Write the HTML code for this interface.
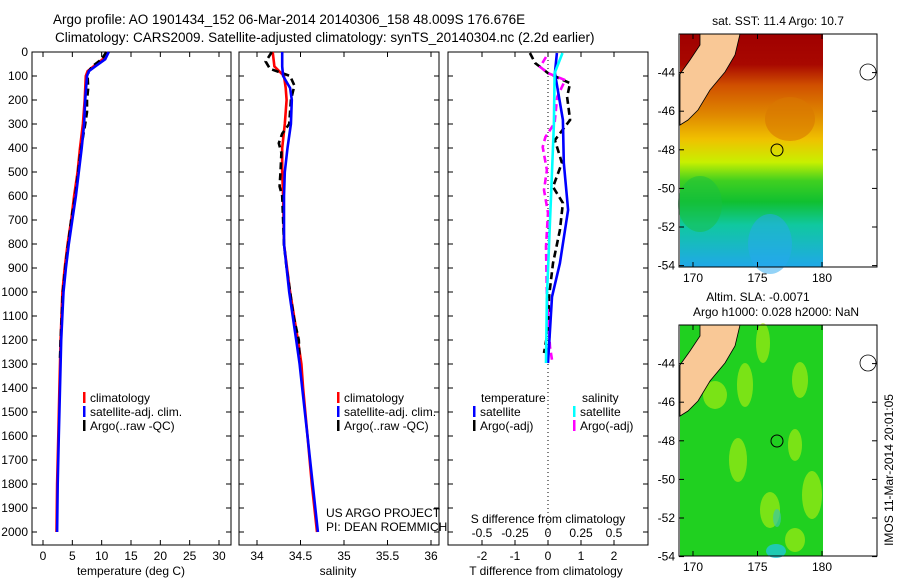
<!DOCTYPE html>
<html><head><meta charset="utf-8"><style>
body{margin:0;background:#fff}
svg{display:block;font-family:"Liberation Sans",sans-serif}
</style></head><body>
<svg id="fig" width="900" height="580" viewBox="0 0 900 580" xmlns="http://www.w3.org/2000/svg">
<rect width="900" height="580" fill="#fff"/>
<text x="53" y="24" font-size="13.5">Argo profile: AO 1901434_152 06-Mar-2014 20140306_158 48.009S 176.676E</text>
<text x="55" y="42" font-size="13.5">Climatology: CARS2009. Satellite-adjusted climatology: synTS_20140304.nc (2.2d earlier)</text>
<g id="maps"></g>
<g id="panels"></g>
</svg>
<script>
// ---- data ----
const tempDepth=[0,30,60,80,100,200,300,400,500,600,700,800,900,1000,1200,1400,1600,1800,2000];
const tempClim=[10.9,10.2,8.6,7.6,7.3,7.1,6.8,6.3,5.9,5.3,4.8,4.2,3.7,3.3,3.0,2.8,2.6,2.4,2.3];
const tempSat=[11.2,10.6,8.9,7.8,7.5,7.2,7.0,6.6,6.1,5.6,5.0,4.4,3.9,3.5,3.1,2.9,2.7,2.5,2.4];
const argoTDepth=[0,30,60,80,100,150,200,250,300,400,500,600,700,800,900,1000,1100,1200,1280];
const argoT=[10.8,10.0,8.4,7.8,7.6,7.7,7.5,7.5,7.2,6.5,6.0,5.5,4.8,4.3,3.8,3.4,3.2,3.0,2.9];
const salDepth=[0,60,100,150,200,300,400,500,600,800,1000,1200,1300,1400,1600,1800,2000];
const salClim=[34.18,34.20,34.31,34.33,34.34,34.32,34.29,34.29,34.30,34.31,34.38,34.47,34.51,34.53,34.58,34.63,34.69];
const salSat=[34.29,34.29,34.30,34.38,34.40,34.39,34.35,34.32,34.31,34.31,34.37,34.45,34.49,34.52,34.58,34.64,34.70];
const argoSDepth=[0,40,70,100,140,200,300,340,380,420,500,560,600,700,800,900,1000,1100,1200,1280];
const argoS=[34.17,34.10,34.15,34.38,34.43,34.39,34.37,34.29,34.25,34.28,34.27,34.26,34.29,34.30,34.31,34.34,34.38,34.42,34.48,34.49];
const dTDepth=[4,88,283,462,658,880,1020,1296];
const dTSat=[0.27,0.21,0.45,0.48,0.61,0.36,0.12,0.0];
const dTArgoDepth=[4,46,88,130,187,283,367,462,562,629,742,880,1020,1158,1254];
const dTArgo=[-0.55,-0.39,0.0,0.67,0.58,0.67,0.21,0.42,0.15,0.45,0.36,0.15,0.03,0.0,-0.12];
const dSDepth=[4,88,300,604,1020,1296];
const dSSat=[0.11,0.05,0.045,0.023,-0.008,-0.015];
const dSArgoDepth=[21,62,88,117,187,296,354,396,492,575,671,812,1020,1229,1283];
const dSArgo=[-0.015,-0.06,0.0,0.13,0.07,0.05,-0.02,-0.04,-0.008,-0.03,0.0,-0.015,-0.008,0.015,0.03];
const tempTicks=[0,5,10,15,20,25,30];
const salTicks=[34,34.5,35,35.5,36];
const dTTicks=[-2,-1,0,1,2];
const dSTicks=[-0.5,-0.25,0,0.25,0.5];
const depthTicks=[0,100,200,300,400,500,600,700,800,900,1000,1100,1200,1300,1400,1500,1600,1700,1800,1900,2000];
const latTicks=[-44,-46,-48,-50,-52,-54];
const lonTicks=[170,175,180];

const NS="http://www.w3.org/2000/svg";
function el(tag,attrs,parent,txt){const e=document.createElementNS(NS,tag);for(const k in attrs)e.setAttribute(k,attrs[k]);if(txt!==undefined)e.textContent=txt;parent.appendChild(e);return e;}
const P=document.getElementById('panels');
const TOP=52,BOT=545;
const yD=d=>52+d*0.24;
function xLin(v0,x0,v1,x1){return v=>x0+(v-v0)*(x1-x0)/(v1-v0);}
const xT=xLin(0,43,30,219), xS=xLin(34,257,36,431), xDT=xLin(0,548,2,614), xDS=xLin(0,548,0.5,614);

function frame(x0,x1,name){
  const r=el('rect',{x:x0,y:TOP,width:x1-x0,height:BOT-TOP,fill:'none',stroke:'#000','stroke-width':1},P);
  
  
  depthTicks.forEach(d=>{const y=yD(d);
    el('line',{x1:x0,x2:x0+5,y1:y,y2:y,stroke:'#000'},P);
    el('line',{x1:x1-5,x2:x1,y1:y,y2:y,stroke:'#000'},P);});
}
function xticks(ticks,fx,y,labels,name){
  ticks.forEach((t,i)=>{const x=fx(t);
    el('line',{x1:x,x2:x,y1:BOT,y2:BOT-5,stroke:'#000'},P);
    el('line',{x1:x,x2:x,y1:TOP,y2:TOP+5,stroke:'#000'},P);
    const tx=el('text',{x:x,y:y,'font-size':12,'text-anchor':'middle'},P,labels?labels[i]:String(t));
    
    });
}
function line(vals,depths,fx,color,dash,name,w){
  const pts=vals.map((v,i)=>fx(v).toFixed(1)+','+yD(depths[i]).toFixed(1)).join(' ');
  const a={points:pts,fill:'none',stroke:color,'stroke-width':w||2.6};
  if(dash)a['stroke-dasharray']=dash;
  const l=el('polyline',a,P);
  
  
}
// panel 1
frame(32,231,'temperature-panel');
depthTicks.forEach(d=>{const t=el('text',{x:28,y:yD(d)+4,'font-size':12,'text-anchor':'end'},P,String(d));
  
  });
xticks(tempTicks,xT,560,null,'temperature-tick-label');
line(tempClim,tempDepth,xT,'#f00',null,'temp-climatology-line');
line(argoT,argoTDepth,xT,'#000','7,4','temp-argo-line');
line(tempSat,tempDepth,xT,'#00f',null,'temp-satellite-line');
// panel 2
frame(239,439,'salinity-panel');
xticks(salTicks,xS,560,['34','34.5','35','35.5','36'],'salinity-tick-label');
line(salClim,salDepth,xS,'#f00',null,'sal-climatology-line');
line(argoS,argoSDepth,xS,'#000','7,4','sal-argo-line');
line(salSat,salDepth,xS,'#00f',null,'sal-satellite-line');
// panel 3
frame(448,648,'difference-panel');
el('line',{x1:548,x2:548,y1:TOP,y2:BOT,stroke:'#000','stroke-dasharray':'1,3'},P);
xticks(dTTicks,xDT,560,null,'t-diff-tick-label');
dSTicks.forEach((t,i)=>{const x=xDS(t);
  const tx=el('text',{x:x,y:537,'font-size':12,'text-anchor':'middle'},P,['-0.5','-0.25','0','0.25','0.5'][i]);
  
  });
line(dTArgo,dTArgoDepth,xDT,'#000','7,4','t-diff-argo-line');
line(dSArgo,dSArgoDepth,xDS,'#f0f','7,4','s-diff-argo-line');
line(dTSat,dTDepth,xDT,'#00f',null,'t-diff-satellite-line');
line(dSSat,dSDepth,xDS,'#0ff',null,'s-diff-satellite-line');
// axis titles
[['temperature (deg C)',131,575,'temperature-axis-title'],['salinity',338,575,'salinity-axis-title'],['T difference from climatology',546,575,'t-diff-axis-title'],['S difference from climatology',548,523,'s-diff-axis-title']].forEach(a=>{
  const t=el('text',{x:a[1],y:a[2],'font-size':12,'text-anchor':'middle'},P,a[0]);
  
  });
// legends
function leg(x,y,color,label,name){
  el('rect',{x:x,y:y-10,width:2.5,height:11,fill:color},P);
  const t=el('text',{x:x+7,y:y,'font-size':12},P,label);
  
  }
[[83,'#f00','climatology'],[83,'#00f','satellite-adj. clim.'],[83,'#000','Argo(..raw -QC)']].forEach((l,i)=>leg(l[0],402+i*14,l[1],l[2],'temp-legend-entry'));
[[337,'#f00','climatology'],[337,'#00f','satellite-adj. clim.'],[337,'#000','Argo(..raw -QC)']].forEach((l,i)=>leg(l[0],402+i*14,l[1],l[2],'sal-legend-entry'));
el('text',{x:481,y:402,'font-size':12},P,'temperature');
el('text',{x:582,y:402,'font-size':12},P,'salinity');
leg(473,416,'#00f','satellite','diff-legend-entry');
leg(473,430,'#000','Argo(-adj)','diff-legend-entry');
leg(573,416,'#0ff','satellite','diff-legend-entry');
leg(573,430,'#f0f','Argo(-adj)','diff-legend-entry');
el('text',{x:326,y:517,'font-size':12},P,'US ARGO PROJECT');
el('text',{x:326,y:531,'font-size':12},P,'PI: DEAN ROEMMICH');

// ---- maps ----
const M=document.getElementById('maps');
function map(top,kind,name){
  const g=el('g',{},M);
  
  
  const lat=v=>top+(-42-v)*19.3;
  const lon=v=>693+(v-170)*12.9;
  const h=(top===34)?233:231;
  if(kind==='sst'){
    const gr=el('linearGradient',{id:'sstg',x1:0,y1:0,x2:0,y2:1},g);
    [[0,'#a00000'],[0.13,'#a80800'],[0.22,'#d05000'],[0.35,'#e08a00'],[0.45,'#f0c000'],[0.55,'#c8f000'],[0.63,'#40d020'],[0.72,'#10c030'],[0.82,'#10c8a0'],[1,'#20a8e8']].forEach(s=>el('stop',{offset:s[0],'stop-color':s[1]},gr));
    el('rect',{x:680,y:top,width:143,height:h,fill:'url(#sstg)'},g);
    el('ellipse',{cx:790,cy:top+85,rx:25,ry:22,fill:'#d87800',opacity:0.6},g);
    el('ellipse',{cx:770,cy:top+210,rx:22,ry:30,fill:'#28a8f0',opacity:0.5},g);
    el('ellipse',{cx:700,cy:top+170,rx:22,ry:28,fill:'#18c040',opacity:0.5},g);
  } else {
    el('rect',{x:680,y:top,width:143,height:h,fill:'#20d020'},g);
    [[763,top+18,7,20],[800,top+55,8,18],[715,top+70,12,14],[745,top+60,8,22],[795,top+120,7,16],[738,top+135,9,22],[770,top+185,10,18],[812,top+170,10,24],[795,top+215,10,12]].forEach(e=>el('ellipse',{cx:e[0],cy:e[1],rx:e[2],ry:e[3],fill:'#b8f010',opacity:0.6},g));
    el('ellipse',{cx:776,cy:top+226,rx:10,ry:7,fill:'#20c8d8',opacity:0.8},g);
    el('ellipse',{cx:777,cy:top+193,rx:4,ry:9,fill:'#40c8a0',opacity:0.7},g);
  }
  el('polygon',{points:[[700,0],[740,0],[735,21],[725,38],[710,56],[698,76],[688,86],[680,91],[680,40],[690,26],[700,11]].map(p=>p[0]+','+(p[1]+top)).join(' '),fill:'#f9c896',stroke:'#000','stroke-width':0.8},g);
  el('rect',{x:823,y:top,width:54,height:h,fill:'#fff'},g);
  el('ellipse',{cx:868,cy:top+38,rx:8,ry:8,fill:'#fff',stroke:'#000','stroke-width':0.8},g);
  el('circle',{cx:777,cy:lat(-48.01),r:6,fill:'none',stroke:'#000'},g);
  el('rect',{x:679,y:top,width:198,height:h,fill:'none',stroke:'#000'},g);
  latTicks.forEach(v=>{const y=lat(v);
    el('line',{x1:679,x2:684,y1:y,y2:y,stroke:'#000'},g);
    el('line',{x1:872,x2:877,y1:y,y2:y,stroke:'#000'},g);
    el('text',{x:675,y:y+4,'font-size':12,'text-anchor':'end'},g,String(v));});
  lonTicks.forEach(v=>{const x=lon(v);
    el('line',{x1:x,x2:x,y1:top+h,y2:top+h-5,stroke:'#000'},g);
    el('line',{x1:x,x2:x,y1:top,y2:top+5,stroke:'#000'},g);
    el('text',{x:x,y:top+h+15,'font-size':12,'text-anchor':'middle'},g,String(v));});
}
map(34,'sst','sst-map');
map(325,'sla','sla-map');
el('text',{x:778,y:25,'font-size':12,'text-anchor':'middle'},M,'sat. SST: 11.4 Argo: 10.7');
el('text',{x:758,y:301,'font-size':12,'text-anchor':'middle'},M,'Altim. SLA: -0.0071');
el('text',{x:776,y:316,'font-size':12,'text-anchor':'middle'},M,'Argo h1000: 0.028 h2000: NaN');
el('text',{x:0,y:0,'font-size':12,'text-anchor':'middle',transform:'translate(893,470) rotate(-90)'},M,'IMOS 11-Mar-2014 20:01:05');
</script>
</body></html>
